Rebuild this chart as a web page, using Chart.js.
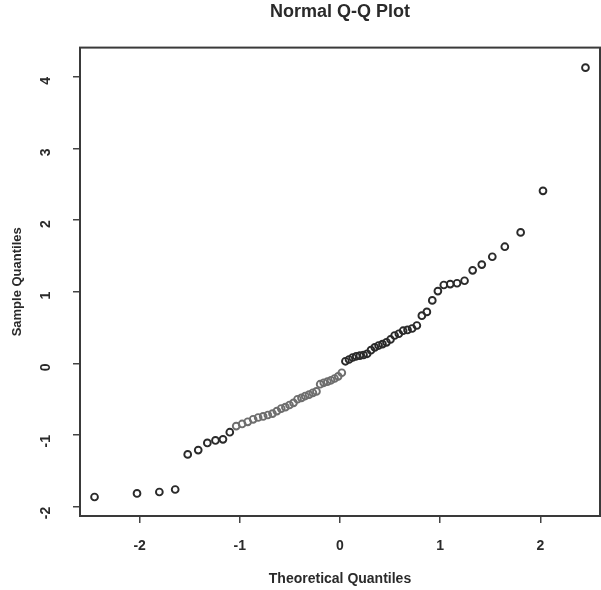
<!DOCTYPE html>
<html>
<head>
<meta charset="utf-8">
<script src="https://cdn.jsdelivr.net/npm/chart.js@4.4.1/dist/chart.umd.min.js"></script>
<style>
  html, body { margin: 0; padding: 0; background: #fff; }
  #wrap { width: 601px; height: 590px; }
</style>
</head>
<body>
<div id="wrap"><canvas id="qq" width="601" height="590"></canvas></div>
<script>
// Theoretical quantiles (x)
const theoretical = [
  -2.450, -2.026, -1.803, -1.645, -1.520, -1.415, -1.324, -1.243, -1.168, -1.100,
  -1.036, -0.977, -0.921, -0.867, -0.817, -0.767, -0.720, -0.674, -0.630, -0.587,
  -0.545, -0.504, -0.464, -0.424, -0.385, -0.347, -0.309, -0.271, -0.235, -0.198,
  -0.162, -0.126, -0.090, -0.054, -0.018, 0.018, 0.054, 0.090, 0.126, 0.162,
  0.198, 0.235, 0.271, 0.309, 0.347, 0.385, 0.424, 0.464, 0.504, 0.545,
  0.587, 0.630, 0.674, 0.720, 0.767, 0.817, 0.867, 0.921, 0.977, 1.036,
  1.100, 1.168, 1.243, 1.324, 1.415, 1.520, 1.645, 1.803, 2.026, 2.450
];

// Sample quantiles (y)
const sample = [
  -1.865, -1.815, -1.795, -1.760, -1.270, -1.210, -1.110, -1.075, -1.060, -0.960,
  -0.875, -0.845, -0.815, -0.780, -0.755, -0.740, -0.720, -0.700, -0.665, -0.630,
  -0.610, -0.580, -0.550, -0.500, -0.480, -0.455, -0.435, -0.410, -0.390, -0.290,
  -0.270, -0.255, -0.235, -0.210, -0.180, -0.130, 0.030, 0.055, 0.083, 0.100,
  0.109, 0.118, 0.135, 0.185, 0.225, 0.250, 0.270, 0.295, 0.335, 0.390,
  0.415, 0.457, 0.468, 0.488, 0.530, 0.667, 0.720, 0.880, 1.010, 1.095,
  1.108, 1.120, 1.155, 1.300, 1.380, 1.490, 1.630, 1.830, 2.410, 4.130
];

// The scanned middle run of points looks lighter
const grayFrom = 10;
const grayTo = 35;

const xTicks = [-2, -1, 0, 1, 2];
const yTicks = [-2, -1, 0, 1, 2, 3, 4];

const points = theoretical.map((x, i) => ({ x: x, y: sample[i] }));

const FONT = '"Liberation Sans", Arial, Helvetica, sans-serif';
const INK = '#2a2a2a';

// Draw the full R-style box around the plotting region
const boxPlugin = {
  id: 'plotBox',
  afterDraw(chart) {
    const a = chart.chartArea;
    const ctx = chart.ctx;
    ctx.save();
    ctx.strokeStyle = '#3a3a3a';
    ctx.lineWidth = 2;
    ctx.strokeRect(a.left, a.top, a.right - a.left, a.bottom - a.top);
    ctx.restore();
  }
};

new Chart(document.getElementById('qq').getContext('2d'), {
  type: 'scatter',
  data: {
    datasets: [{
      data: points,
      showLine: false,
      clip: false,
      pointStyle: 'circle',
      pointRadius: 3.4,
      pointBorderWidth: 1.9,
      pointBackgroundColor: 'rgba(0,0,0,0)',
      pointBorderColor: ctx => (ctx.dataIndex >= grayFrom && ctx.dataIndex <= grayTo) ? '#6e6e6e' : INK
    }]
  },
  options: {
    responsive: false,
    animation: false,
    layout: { autoPadding: false, padding: { left: 0, right: 1, top: 0, bottom: 0 } },
    plugins: {
      legend: { display: false },
      tooltip: { enabled: false },
      title: {
        display: true,
        fullSize: false,
        text: 'Normal Q-Q Plot',
        color: INK,
        font: { family: FONT, size: 18, weight: 'bold' },
        padding: { top: 1, bottom: 25 }
      }
    },
    scales: {
      x: {
        type: 'linear',
        min: -2.595,
        max: 2.595,
        afterBuildTicks: s => { s.ticks = xTicks.map(v => ({ value: v })); },
        afterFit: s => { s.height = 74; s.paddingLeft = 0; s.paddingRight = 0; },
        border: { display: false },
        grid: { drawOnChartArea: false, drawTicks: true, tickLength: 7, color: '#444', lineWidth: 1.5 },
        ticks: { color: INK, padding: 15, font: { family: FONT, size: 14, weight: 'bold' } },
        title: {
          display: true,
          text: 'Theoretical Quantiles',
          color: INK,
          font: { family: FONT, size: 14, weight: 'bold' },
          padding: { top: 0, bottom: 2 }
        }
      },
      y: {
        type: 'linear',
        min: -2.13,
        max: 4.41,
        afterBuildTicks: s => { s.ticks = yTicks.map(v => ({ value: v })); },
        afterFit: s => { s.width = 80; s.paddingTop = 0; s.paddingBottom = 0; },
        border: { display: false },
        grid: { drawOnChartArea: false, drawTicks: true, tickLength: 7, color: '#444', lineWidth: 1.5 },
        ticks: { color: INK, padding: 27, minRotation: 90, maxRotation: 90, font: { family: FONT, size: 14, weight: 'bold' } },
        title: {
          display: true,
          text: 'Sample Quantiles',
          color: INK,
          font: { family: FONT, size: 13, weight: 'bold' },
          padding: { top: 10, bottom: 0 }
        }
      }
    }
  },
  plugins: [boxPlugin]
});
</script>
</body>
</html>
